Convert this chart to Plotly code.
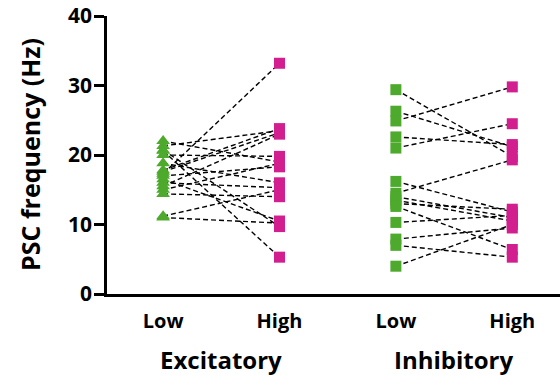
import plotly.graph_objects as go

# Data (PSC frequency, Hz)
exc_low  = [22.0, 21.3, 20.7, 20.6, 20.0, 18.8, 17.8, 17.6, 17.3, 17.0, 16.5, 16.0, 15.5, 15.0, 14.4, 11.2, 11.0]
exc_high = [19.0, 23.5, 9.7, 5.3, 19.8, 16.0, 23.8, 23.2, 33.2, 18.3, 10.5, 15.3, 23.0, 18.8, 14.0, 15.0, 10.2]
inh_low  = [29.4, 26.3, 24.9, 22.6, 21.0, 16.2, 14.5, 14.0, 13.5, 13.0, 12.6, 10.3, 7.9, 7.0, 4.0]
inh_high = [19.8, 21.2, 29.8, 21.5, 24.5, 11.8, 19.3, 11.0, 10.5, 12.2, 6.4, 11.3, 9.5, 5.3, 10.0]

categories = ["Low", "High", "Low", "High"]
groups = ["Excitatory", "Inhibitory"]
yticks = [0, 10, 20, 30, 40]
xpos = [1, 2, 3, 4]

GREEN = "#4DAA2C"
MAGENTA = "#D21E8E"
FONT = "Open Sans"

W, H = 560, 381
ML, MT, MB = 107, 16, 87
PW = W - ML

fig = go.Figure()

def pair_lines(x0, x1, lo, hi):
    xs, ys = [], []
    for a, b in zip(lo, hi):
        xs += [x0, x1, None]
        ys += [a, b, None]
    return xs, ys

for (x0, x1, lo, hi) in [(1, 2, exc_low, exc_high), (3, 4, inh_low, inh_high)]:
    xs, ys = pair_lines(x0, x1, lo, hi)
    fig.add_trace(go.Scatter(x=xs, y=ys, mode="lines",
                             line=dict(color="black", width=1.4, dash="5px,3px"),
                             hoverinfo="skip", showlegend=False))

fig.add_trace(go.Scatter(x=[1]*len(exc_low), y=exc_low, mode="markers",
                         marker=dict(symbol="triangle-up", size=12, color=GREEN), showlegend=False))
fig.add_trace(go.Scatter(x=[2]*len(exc_high), y=exc_high, mode="markers",
                         marker=dict(symbol="square", size=11, color=MAGENTA), showlegend=False))
fig.add_trace(go.Scatter(x=[3]*len(inh_low), y=inh_low, mode="markers",
                         marker=dict(symbol="square", size=11, color=GREEN), showlegend=False))
fig.add_trace(go.Scatter(x=[4]*len(inh_high), y=inh_high, mode="markers",
                         marker=dict(symbol="square", size=11, color=MAGENTA), showlegend=False))

for g, xc in zip(groups, [1.5, 3.5]):
    fig.add_annotation(x=xc, y=-0.237, xref="x", yref="paper", text="<b>%s</b>" % g,
                       showarrow=False, font=dict(family=FONT, size=24, color="black"),
                       yanchor="middle")

fig.add_annotation(x=(30 - ML) / PW, y=0.5, xref="paper", yref="paper",
                   text="<b>PSC frequency (Hz)</b>", textangle=-90, showarrow=False,
                   font=dict(family=FONT, size=25, color="black"),
                   xanchor="center", yanchor="middle")

fig.update_layout(
    width=W, height=H,
    margin=dict(l=ML, r=0, t=MT, b=MB),
    paper_bgcolor="white", plot_bgcolor="white",
    font=dict(family=FONT, color="black"),
    xaxis=dict(range=[0.518, 4.41], tickvals=xpos,
               ticktext=["<b>%s</b>" % c for c in categories],
               tickfont=dict(family=FONT, size=20, color="black"),
               showline=True, linecolor="black", linewidth=2.5,
               showgrid=False, zeroline=False, ticks="", ticklabelstandoff=7,
               automargin=False),
    yaxis=dict(range=[0, 40], tickvals=yticks,
               ticktext=["<b>%d</b>" % v for v in yticks],
               tickfont=dict(family=FONT, size=21, color="black"),
               showline=True, linecolor="black", linewidth=2.5,
               ticks="outside", ticklen=10, tickwidth=2.5, tickcolor="black",
               ticklabelstandoff=-2, ticklabeloverflow="allow",
               showgrid=False, zeroline=False, automargin=False),
)

fig.write_html("out.html", config={"displayModeBar": False},
               post_script="document.body.style.margin='0px';document.body.style.overflow='hidden';")
